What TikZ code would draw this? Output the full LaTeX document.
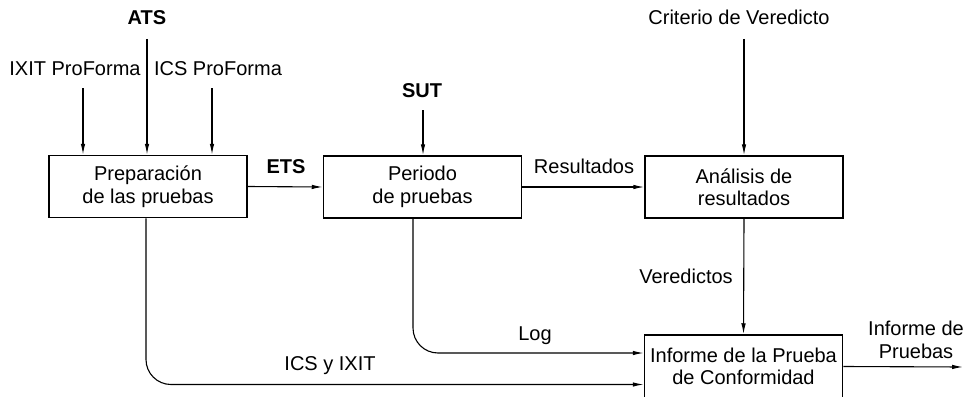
\documentclass[tikz,border=0pt]{standalone}
\usepackage{fontspec}
\setmainfont{Liberation Sans}
\usetikzlibrary{arrows.meta,calc}
\begin{document}
\begin{tikzpicture}[x=1pt,y=-1pt,
  txt/.style={font=\fontsize{20}{23}\selectfont},
  boxnode/.style={draw,line width=1.5pt,minimum width=198pt,minimum height=62pt,inner sep=0pt,align=center,font=\fontsize{20}{22.5}\selectfont},
  lbl/.style={txt,anchor=base,inner sep=0pt},
  blbl/.style={lbl,font=\fontsize{20}{23}\selectfont\bfseries},
  arr/.style={line width=1.1pt,-{Latex[length=11pt,width=4.5pt]}},
  curvedline/.style={rounded corners=25pt}]
\useasboundingbox (0,0) rectangle (968,396);
\clip (0,0) rectangle (968,396);
% boxes
\node[boxnode] (b1) at (148,186.5) {Preparación\\de las pruebas};
\node[boxnode] (b2) at (422.5,187) {Periodo\\de pruebas};
\node[boxnode] (b3) at (744,187) {Análisis de\\resultados};
\node[boxnode,minimum height=63pt] (b4) at (743.5,366.5) {Informe de la Prueba\\de Conformidad};
% labels
\node[blbl] (ats) at (147,25) {ATS};
\node[lbl] (ixit) at (75,75) {IXIT ProForma};
\node[lbl] (icsp) at (218,75) {ICS ProForma};
\node[blbl] (ets) at (286,173) {ETS};
\node[blbl] (sut) at (422,97) {SUT};
\node[lbl] (res) at (584,173) {Resultados};
\node[lbl] (crit) at (739,25) {Criterio de Veredicto};
\node[lbl] (ver) at (686,283) {Veredictos};
\node[lbl] (log) at (535,340) {Log};
\node[lbl] (icsx) at (330,370) {ICS y IXIT};
\node[lbl,align=center] (inf) at (916,358) {Informe de\\Pruebas};
% free ends
\coordinate (atsS) at (147,39);
\coordinate (ixitS) at (83,88);
\coordinate (icsS) at (212,88);
\coordinate (sutS) at (423,110);
\coordinate (critS) at (744,39);
\coordinate (outE) at (963,367);
% connectors
\draw[arr] (atsS) -- (atsS |- b1.north);
\draw[arr] (ixitS) -- (ixitS |- b1.north);
\draw[arr] (icsS) -- (icsS |- b1.north);
\draw[arr] (b1.east) -- (b2.west);
\draw[arr] (sutS) -- (sutS |- b2.north);
\draw[arr] (b2.east) -- (b3.west);
\draw[arr] (critS) -- (critS |- b3.north);
\draw[arr] (b3.south) -- (b4.north);
\draw[arr] (b4.east) -- (outE);
\coordinate (logA) at (413,0);
\coordinate (icsA) at (146,0);
\draw[arr,curvedline] (logA |- b2.south) |- ($(b4.west)+(0,-13.5)$);
\draw[arr,curvedline] (icsA |- b1.south) |- ($(b4.west)+(0,18)$);
\end{tikzpicture}
\end{document}
